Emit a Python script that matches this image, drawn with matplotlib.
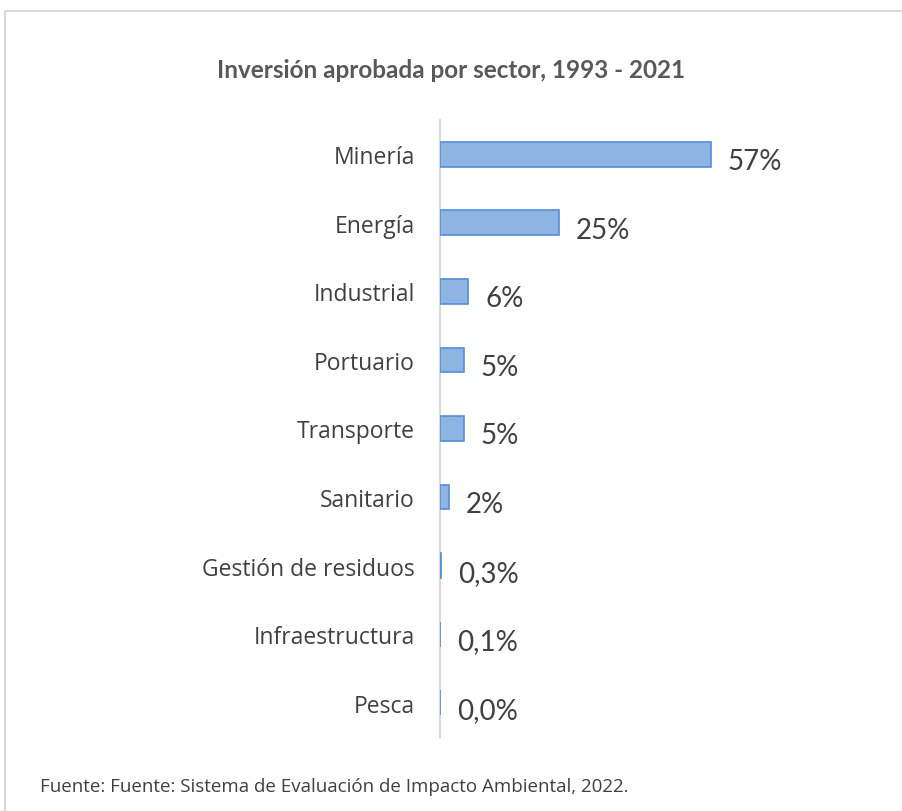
import matplotlib.pyplot as plt
from matplotlib.patches import Rectangle

sectors = ['Minería', 'Energía', 'Industrial', 'Portuario', 'Transporte',
           'Sanitario', 'Gestión de residuos', 'Infraestructura', 'Pesca']
shares = [57, 25, 6, 5, 5, 2, 0.3, 0.1, 0.02]
labels = ['57%', '25%', '6%', '5%', '5%', '2%', '0,3%', '0,1%', '0,0%']

fig = plt.figure(figsize=(9.03, 8.12), dpi=100)
fig.patches.append(Rectangle((5 / 903, -0.01), 1.0, 1 - 12 / 812 + 0.01,
                             transform=fig.transFigure, fill=False,
                             edgecolor='#d9d9d9', linewidth=1.5))

ax = fig.add_axes([440 / 903, 74 / 812, 380 / 903, 617 / 812])
y = list(range(len(sectors)))
ax.barh(y, shares, height=0.36, color='#8eb4e3', edgecolor='#558ed5',
        linewidth=1.2, zorder=3)

ax.set_ylim(len(sectors) - 0.5, -0.5)
ax.set_xlim(0, 80)
ax.set_yticks(y)
ax.set_yticklabels(sectors, fontsize=16.5, color='#404040', family='Open Sans')
ax.tick_params(axis='y', length=0, pad=18)
ax.set_xticks([])
for s in ['top', 'right', 'bottom']:
    ax.spines[s].set_visible(False)
ax.spines['left'].set_color('#d9d9d9')
ax.spines['left'].set_linewidth(1.5)

for yi, v, lab in zip(y, shares, labels):
    ax.annotate(lab, (v, yi), xytext=(12, -5), textcoords='offset points',
                ha='left', va='center', fontsize=20, color='#404040', family='Lato')

fig.text(0.5, 1 - 70 / 812, 'Inversión aprobada por sector, 1993 - 2021',
         ha='center', va='center', fontsize=17.5, fontweight='bold',
         color='#595959', family='Lato')
fig.text(40 / 903, 1 - 787 / 812,
         'Fuente: Fuente: Sistema de Evaluación de Impacto Ambiental, 2022.',
         ha='left', va='center', fontsize=13.5, color='#404040', family='Open Sans')

fig.savefig('out.png', dpi=100)
